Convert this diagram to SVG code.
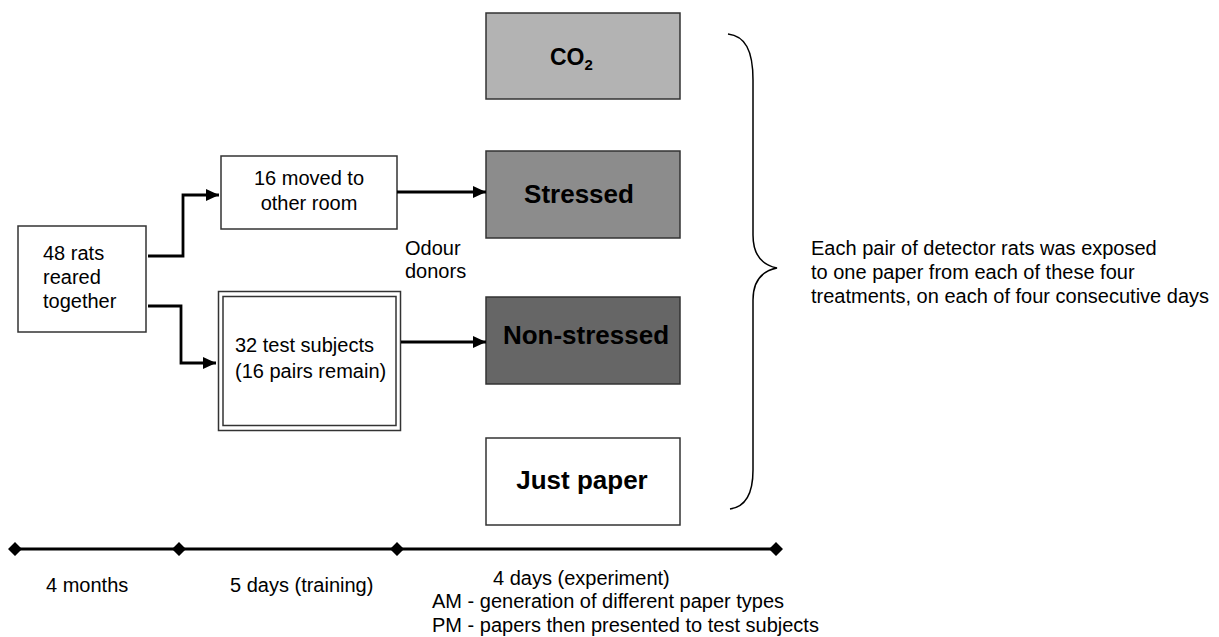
<svg xmlns="http://www.w3.org/2000/svg" width="1219" height="637" viewBox="0 0 1219 637">
<defs>
<marker id="arr" markerWidth="13" markerHeight="12" refX="13" refY="6" orient="auto" markerUnits="userSpaceOnUse">
<path d="M0,0 L13,6 L0,12 Z" fill="#000"/>
</marker>
</defs>
<style>
text{font-family:"Liberation Sans",Arial,sans-serif;fill:#000}
.t{font-size:20px}
.b{font-size:26px;font-weight:bold;text-anchor:middle}
.box{stroke:#333;stroke-width:1.5}
.conn{fill:none;stroke:#000;stroke-width:2.8}
</style>
<rect width="1219" height="637" fill="#fff"/>

<g id="rats48">
<rect class="box" x="18" y="226" width="128" height="106" fill="#fff"/>
<text class="t" x="43" y="260">48 rats</text>
<text class="t" x="43" y="284">reared</text>
<text class="t" x="43" y="308">together</text>
</g>

<g id="moved16">
<rect class="box" x="221" y="156" width="176" height="73" fill="#fff"/>
<text class="t" x="309" y="185" text-anchor="middle">16 moved to</text>
<text class="t" x="309" y="210" text-anchor="middle">other room</text>
</g>

<g id="test32">
<rect class="box" x="218.5" y="291.5" width="182" height="139" fill="#fff"/>
<rect class="box" x="223" y="296.5" width="173" height="129" fill="none"/>
<text class="t" x="235" y="352">32 test subjects</text>
<text class="t" x="235" y="378">(16 pairs remain)</text>
</g>

<g id="co2">
<rect class="box" x="486" y="13" width="194" height="86" fill="#b3b3b3"/>
<text x="550" y="65" font-size="23" font-weight="bold">CO<tspan font-size="15" dy="5">2</tspan></text>
</g>

<g id="stressed">
<rect class="box" x="486" y="151" width="194" height="87" fill="#8c8c8c"/>
<text class="b" x="579" y="203">Stressed</text>
</g>

<g id="nonstressed">
<rect class="box" x="486" y="297" width="194" height="87" fill="#666666"/>
<text class="b" x="586" y="344">Non-stressed</text>
</g>

<g id="justpaper">
<rect class="box" x="486" y="438" width="194" height="87" fill="#fff"/>
<text class="b" x="582" y="489">Just paper</text>
</g>

<g id="labels">
<text class="t" x="405" y="255">Odour</text>
<text class="t" x="405" y="278">donors</text>
<text class="t" x="811" y="255">Each pair of detector rats was exposed</text>
<text class="t" x="811" y="279">to one paper from each of these four</text>
<text class="t" x="811" y="303">treatments, on each of four consecutive days</text>
<text class="t" x="46" y="592">4 months</text>
<text class="t" x="230" y="592">5 days (training)</text>
<text class="t" x="493" y="585">4 days (experiment)</text>
<text class="t" x="432" y="608">AM - generation of different paper types</text>
<text class="t" x="432" y="632">PM - papers then presented to test subjects</text>
</g>

<g id="connectors">
<path class="conn" d="M148,256 H183 V195 H219" marker-end="url(#arr)"/>
<path class="conn" d="M148,306 H181 V363 H216" marker-end="url(#arr)"/>
<path class="conn" d="M397,192 H486" stroke-width="2" marker-end="url(#arr)"/>
<path class="conn" d="M401,342 H486" stroke-width="2" marker-end="url(#arr)"/>
</g>

<g id="brace">
<path d="M728,34 C745,36 753,50 753,80 V235 C753,255 762,265 777,268 C762,271 753,281 753,300 V470 C753,495 745,507 730,509" fill="none" stroke="#000" stroke-width="1.5"/>
</g>

<g id="timeline">
<path d="M15,549 H776" fill="none" stroke="#000" stroke-width="3"/>
<path d="M8,549 L15,542 L22,549 L15,556 Z M172,549 L179,542 L186,549 L179,556 Z M390,549 L397,542 L404,549 L397,556 Z M769,549 L776,542 L783,549 L776,556 Z" fill="#000"/>
</g>
</svg>
